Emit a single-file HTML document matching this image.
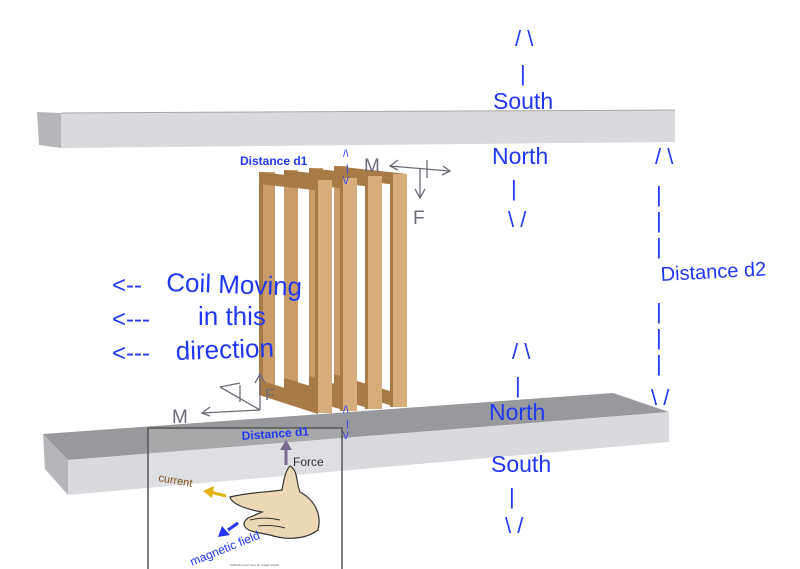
<!DOCTYPE html>
<html><head><meta charset="utf-8"><style>
html,body{margin:0;padding:0;background:#fff;}
svg{display:block;}
.b{font-family:"Liberation Sans",sans-serif;fill:#2038f2;}
.g{font-family:"Liberation Sans",sans-serif;fill:#6e6a78;}
</style></head><body>
<svg width="800" height="569" viewBox="0 0 800 569" xmlns="http://www.w3.org/2000/svg">
<rect width="800" height="569" fill="#fff"/>
<!-- top bar -->
<polygon points="37,112 61,113 61,148 39,145" fill="#b4b6ba"/>
<polygon points="61,113 675,110 675,142 61,148" fill="#d8dadd"/>
<line x1="61" y1="113" x2="675" y2="110" stroke="#a8a8a8" stroke-width="1"/>
<!-- bottom bar -->
<polygon points="43,434 613,393 669,412 68,460" fill="#98999c"/>
<polygon points="43,434 68,460 68,495 45,469" fill="#b4b6ba"/>
<polygon points="68,460 669,412 669,442 68,495" fill="#d8dadd"/>
<!-- coil frames -->
<g id="coil">
<g transform="translate(75,-6)">
<rect x="259" y="172" width="14" height="223" fill="#c99c69"/>
<polygon points="259,172 332,180 332,192 259,184" fill="#a87a45"/>
<polygon points="259,380 318,398 318,412 259,395" fill="#a87a45"/>
<rect x="315" y="180" width="4" height="233" fill="#a87a45"/>
<rect x="318" y="180" width="14" height="233" fill="#d7ad7c"/>
</g>
<g transform="translate(50,-4)">
<rect x="259" y="172" width="14" height="223" fill="#c99c69"/>
<polygon points="259,172 332,180 332,192 259,184" fill="#a87a45"/>
<polygon points="259,380 318,398 318,412 259,395" fill="#a87a45"/>
<rect x="315" y="180" width="4" height="233" fill="#a87a45"/>
<rect x="318" y="180" width="14" height="233" fill="#d7ad7c"/>
</g>
<g transform="translate(25,-2)">
<rect x="259" y="172" width="14" height="223" fill="#c99c69"/>
<polygon points="259,172 332,180 332,192 259,184" fill="#a87a45"/>
<polygon points="259,380 318,398 318,412 259,395" fill="#a87a45"/>
<rect x="315" y="180" width="4" height="233" fill="#a87a45"/>
<rect x="318" y="180" width="14" height="233" fill="#d7ad7c"/>
</g>
<g>
<rect x="259" y="172" width="16" height="223" fill="#c99c69"/>
<rect x="259" y="172" width="4" height="223" fill="#a87a45"/>
<polygon points="259,172 332,180 332,192 259,184" fill="#a87a45"/>
<polygon points="259,380 318,398 318,414 259,395" fill="#a87a45"/>
<rect x="315" y="180" width="4" height="233" fill="#a87a45"/>
<rect x="318" y="180" width="14" height="233" fill="#d7ad7c"/>
</g>
</g>
<!-- hand box -->
<rect x="148" y="428" width="194" height="145" fill="rgba(255,255,255,0.15)" stroke="#555" stroke-width="1.5"/>
<!-- hand -->
<path d="M230,497 C250,492 270,492 282,490 C284,478 286,470 290,466 C298,470 296,482 300,492 C315,500 322,515 318,530 C305,540 285,540 270,535 L255,532 C245,530 240,524 248,518 L262,512 C250,510 232,505 230,497 Z" fill="#ecd8b4" stroke="#333" stroke-width="1.2"/>
<path d="M250,520 C262,517 272,518 280,520 M258,526 C268,525 278,526 285,528" stroke="#333" fill="none" stroke-width="1"/>
<!-- force arrow -->
<line x1="286" y1="465" x2="286" y2="448" stroke="#7a6a8e" stroke-width="3"/>
<polygon points="280,450 286,440 292,450" fill="#7a6a8e"/>
<text x="293" y="466" class="g" font-size="12" style="fill:#333">Force</text>
<!-- current arrow -->
<line x1="226" y1="496" x2="210" y2="492" stroke="#e2b30e" stroke-width="3"/>
<polygon points="214,486 203,491 212,498" fill="#e2b30e"/>
<text x="158" y="481" font-family="Liberation Sans,sans-serif" font-size="11" fill="#7a4f14" transform="rotate(10 158 481)">current</text>
<!-- magnetic arrow -->
<line x1="238" y1="523" x2="228" y2="530" stroke="#2436f0" stroke-width="3"/>
<polygon points="222,526 218,537 230,535" fill="#2436f0"/>
<text x="192" y="566" class="b" font-size="12" transform="rotate(-22 192 566)">magnetic field</text>
<text x="230" y="566" font-family="Liberation Sans,sans-serif" font-size="3" fill="#555">Attribution text here for image credits</text>
<!-- axes -->
<g stroke="#6e6a78" stroke-width="1.3" fill="none">
<line x1="390" y1="166" x2="449" y2="171"/>
<polyline points="398,160 390,166 398,170"/>
<polyline points="443,166 450,171 442,175"/>
<line x1="420" y1="168" x2="420" y2="197"/>
<polyline points="415,189 420,198 425,189"/>
<line x1="427" y1="160" x2="427" y2="178"/>
<line x1="202" y1="413" x2="260" y2="410"/>
<polyline points="210,407 202,413 210,416"/>
<line x1="260" y1="410" x2="220" y2="387"/>
<line x1="220" y1="387" x2="240" y2="383"/>
<line x1="260" y1="410" x2="260" y2="375"/>
<polyline points="255,383 260,374 265,383"/>
<line x1="240" y1="385" x2="240" y2="402"/>
</g>
<text x="364" y="172" class="g" font-size="19">M</text>
<text x="413" y="224" class="g" font-size="19">F</text>
<text x="172" y="423" class="g" font-size="19">M</text>
<text x="265" y="400" class="g" font-size="16">F</text>
<!-- blue labels -->
<g class="b">
<text x="515" y="46" font-size="22">/ \</text>
<text x="520" y="81" font-size="22">|</text>
<text x="493" y="109" font-size="23">South</text>
<text x="492" y="164" font-size="23">North</text>
<text x="511" y="196" font-size="22">|</text>
<text x="508" y="227" font-size="22">\ /</text>
<text x="655" y="164" font-size="22">/ \</text>
<text x="656" y="202" font-size="22">|</text>
<text x="656" y="228" font-size="22">|</text>
<text x="656" y="254" font-size="22">|</text>
<text x="661" y="281" font-size="20" transform="rotate(-3 661 281)">Distance d2</text>
<text x="656" y="319" font-size="22">|</text>
<text x="656" y="345" font-size="22">|</text>
<text x="656" y="371" font-size="22">|</text>
<text x="651" y="405" font-size="22">\ /</text>
<text x="512" y="359" font-size="22">/ \</text>
<text x="515" y="393" font-size="22">|</text>
<text x="489" y="420" font-size="23">North</text>
<text x="491" y="472" font-size="23">South</text>
<text x="509" y="504" font-size="22">|</text>
<text x="505" y="533" font-size="22">\ /</text>
<text x="240" y="165" font-size="12" font-weight="bold">Distance d1</text>
<text x="242" y="440" font-size="12" font-weight="bold" transform="rotate(-4 242 440)">Distance d1</text>
<text x="343" y="157" font-size="10">/\</text>
<text x="346" y="172" font-size="10">|</text>
<text x="343" y="184" font-size="10">\/</text>
<text x="343" y="413" font-size="10">/\</text>
<text x="346" y="427" font-size="10">|</text>
<text x="343" y="439" font-size="10">\/</text>
<text x="112" y="293" font-size="24">&lt;--</text>
<text x="166" y="291" font-size="26" transform="rotate(2 166 291)">Coil Moving</text>
<text x="112" y="327" font-size="24">&lt;---</text>
<text x="198" y="325" font-size="26">in this</text>
<text x="112" y="361" font-size="24">&lt;---</text>
<text x="176" y="360" font-size="26" transform="rotate(-2 176 360)">direction</text>
</g>
</svg>
</body></html>
